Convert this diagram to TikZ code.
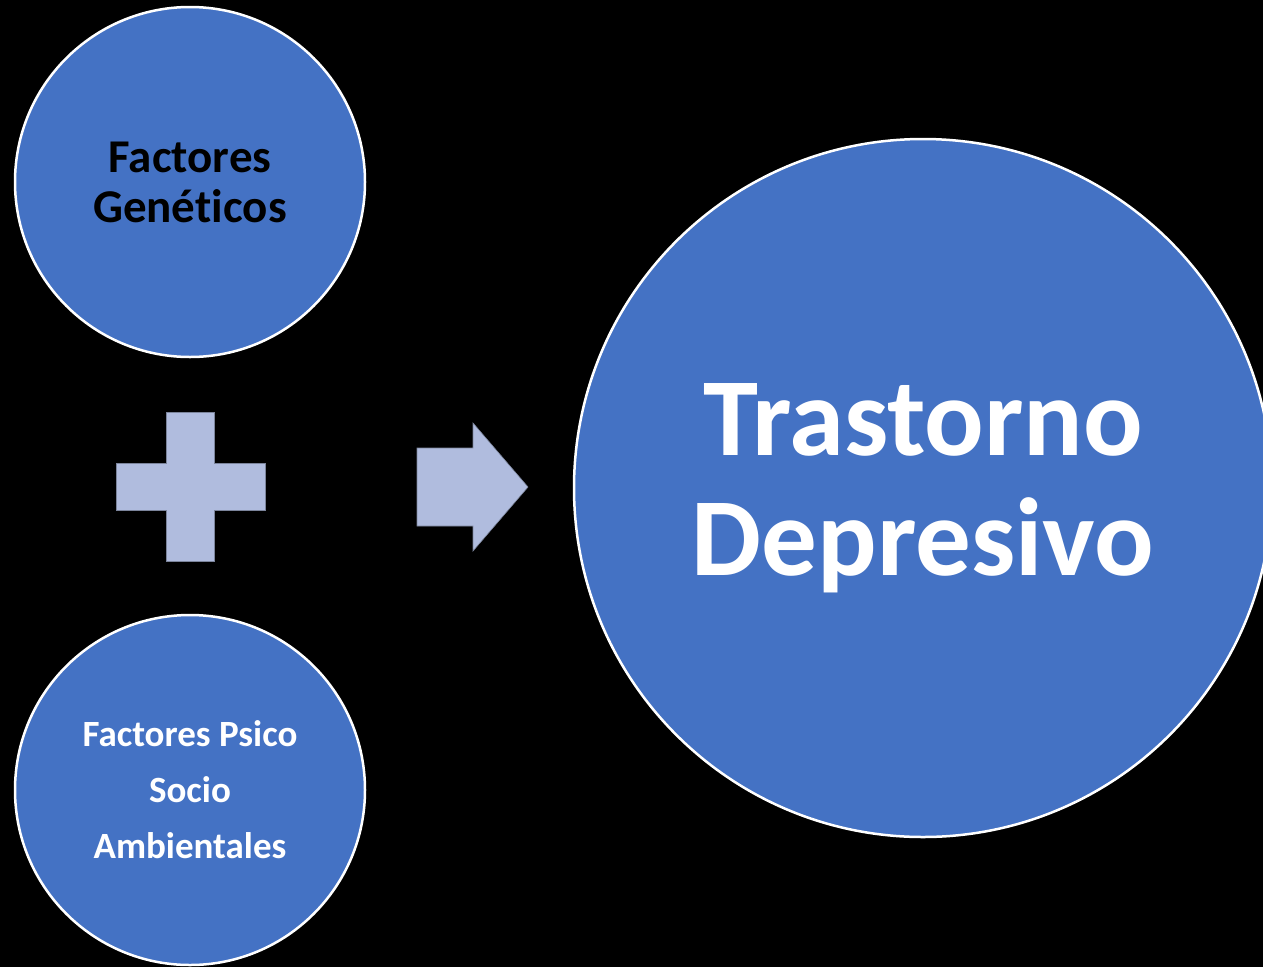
\documentclass[tikz,border=0pt]{standalone}
\usepackage{fontspec}
\setmainfont[Ligatures=NoCommon]{Carlito}
\definecolor{cblue}{RGB}{68,114,196}
\definecolor{lav}{RGB}{176,188,222}
\begin{document}
\begin{tikzpicture}[x=1pt,y=-1pt,
  circ/.style={circle,fill=cblue,draw=white,line width=2.5pt,inner sep=0pt,align=center,font=\bfseries},
  shapefill/.style={fill=lav,draw=lav!70!black,line width=0.6pt}]
\useasboundingbox (0,0) rectangle (1263,967);
\clip (0,0) rectangle (1263,967);
\fill[black] (0,0) rectangle (1263,967);
\node[circ,minimum size=350pt,text=black,font=\bfseries\fontsize{47}{50}\selectfont] (gen) at (190,182) {Factores\\Gené\kern0pt t\kern0pt icos};
\node[circ,minimum size=350pt,text=white,font=\bfseries\fontsize{37}{56}\selectfont] (psico) at (190,790) {Factores Psico\\Socio\\Ambientales};
\node[circ,minimum size=698pt,text=white,font=\bfseries\fontsize{111}{120}\selectfont] (tras) at (923,488) {Trastorno\\Depresivo};
\path[shapefill] (166,412) -- (214,412) -- (214,463) -- (265,463) -- (265,510) -- (214,510) -- (214,561) -- (166,561) -- (166,510) -- (116,510) -- (116,463) -- (166,463) -- cycle;
\path[shapefill] (417,448) -- (473,448) -- (473,423) -- (528,487) -- (473,551) -- (473,526) -- (417,526) -- cycle;
\end{tikzpicture}
\end{document}
